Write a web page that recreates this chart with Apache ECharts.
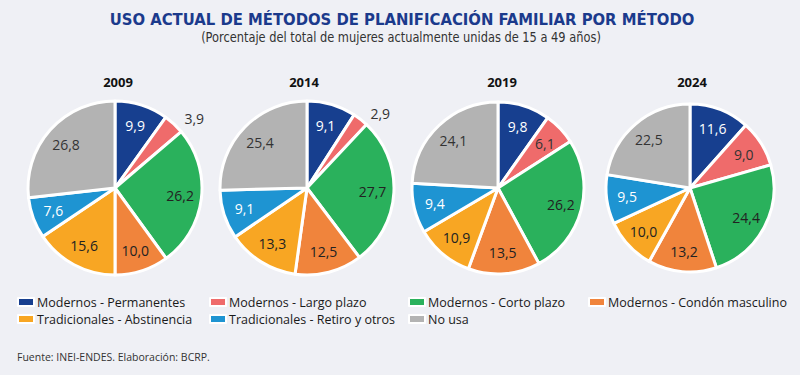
<!DOCTYPE html>
<html>
<head>
<meta charset="utf-8">
<script src="https://cdn.jsdelivr.net/npm/echarts@6/dist/echarts.min.js"></script>
<style>
html,body{margin:0;padding:0;background:#eff0f5;}
#chart{width:800px;height:375px;}
</style>
</head>
<body>
<div id="chart"></div>
<script>
// ---- Data ----
var categories = [
  'Modernos - Permanentes',
  'Modernos - Largo plazo',
  'Modernos - Corto plazo',
  'Modernos - Condón masculino',
  'Tradicionales - Abstinencia',
  'Tradicionales - Retiro y otros',
  'No usa'
];
var years = ['2009', '2014', '2019', '2024'];
var values2009 = [9.9, 3.9, 26.2, 10.0, 15.6, 7.6, 26.8];
var values2014 = [9.1, 2.9, 27.7, 12.5, 13.3, 9.1, 25.4];
var values2019 = [9.8, 6.1, 26.2, 13.5, 10.9, 9.4, 24.1];
var values2024 = [11.6, 9.0, 24.4, 13.2, 10.0, 9.5, 22.5];
var titleText = 'USO ACTUAL DE MÉTODOS DE PLANIFICACIÓN FAMILIAR POR MÉTODO';
var subtitleText = '(Porcentaje del total de mujeres actualmente unidas de 15 a 49 años)';
var sourceText = 'Fuente: INEI-ENDES. Elaboración: BCRP.';

// ---- Styles / layout ----
var colors = ['#173f8f', '#ef6b6b', '#2ab15c', '#f0843c', '#f8a623', '#1e94d2', '#b3b3b3'];
var labelColors = ['#ffffff', '#333333', '#222222', '#222222', '#222222', '#ffffff', '#333333'];
var allValues = [values2009, values2014, values2019, values2024];
var centers = [[115, 188], [307, 188], [498, 188], [690, 188]];
var radii = [87, 87, 86, 84];
var yearX = [118, 304, 502, 692];
var labelFont = '"Open Sans", "Liberation Sans", sans-serif';
var condFont = '"DejaVu Sans Condensed", "Liberation Sans", sans-serif';

function fmt(v) { return v.toFixed(1).replace('.', ','); }

var series = [];
allValues.forEach(function (vals, i) {
  series.push({
    type: 'pie',
    center: centers[i],
    radius: [0, radii[i]],
    startAngle: 90,
    clockwise: true,
    silent: true,
    label: { show: false },
    labelLine: { show: false },
    itemStyle: { borderColor: '#ffffff', borderWidth: 3 },
    data: vals.map(function (v, k) {
      return { name: categories[k], value: v, itemStyle: { color: colors[k] } };
    })
  });
});
// label overlay series (labels placed at ~0.72 radius)
allValues.forEach(function (vals, i) {
  series.push({
    type: 'pie',
    center: centers[i],
    radius: [radii[i] * 0.44, radii[i]],
    startAngle: 90,
    clockwise: true,
    silent: true,
    avoidLabelOverlap: false,
    itemStyle: { color: 'rgba(0,0,0,0)', borderWidth: 0 },
    labelLine: { show: false, length: 8, length2: 0 },
    label: {
      show: true,
      position: 'inside',
      fontFamily: labelFont,
      fontSize: 14,
      formatter: function (p) { return fmt(p.value); }
    },
    data: vals.map(function (v, k) {
      var small = v < 5;
      return {
        name: categories[k], value: v,
        itemStyle: { color: 'rgba(0,0,0,0)' },
        label: small ? { position: 'outside', color: '#333333' } : { color: labelColors[k] }
      };
    })
  });
});

function legendCol(left, idxs) {
  return {
    orient: 'vertical',
    left: left,
    top: 294,
    itemWidth: 16,
    itemHeight: 8,
    itemGap: 1,
    padding: 0,
    icon: 'rect',
    selectedMode: false,
    textStyle: { fontFamily: labelFont, fontSize: 12.5, color: '#1a1a1a', lineHeight: 16, padding: [0, 0, 0, -2] },
    data: idxs.map(function (k) { return { name: categories[k], itemStyle: { color: colors[k] } }; })
  };
}

var graphics = [
  { type: 'text', x: 402, y: 19, style: { text: titleText, align: 'center', verticalAlign: 'middle',
      font: 'bold 16.5px ' + condFont, fill: '#1b3a8c' } },
  { type: 'text', x: 401, y: 37, scaleX: 0.94, style: { text: subtitleText, align: 'center', verticalAlign: 'middle',
      font: '13.5px ' + condFont, fill: '#333333' } },
  { type: 'text', x: 17, y: 357, style: { text: sourceText, align: 'left', verticalAlign: 'middle',
      font: '10.5px ' + labelFont, fill: '#333333' } }
];
years.forEach(function (y, i) {
  graphics.push({ type: 'text', x: yearX[i], y: 82, style: { text: y, align: 'center', verticalAlign: 'middle',
      font: 'bold 13px ' + labelFont, fill: '#111111' } });
});

var chart = echarts.init(document.getElementById('chart'), null, { renderer: 'svg' });
chart.setOption({
  backgroundColor: '#eff0f5',
  animation: false,
  legend: [legendCol(17, [0, 4]), legendCol(209, [1, 5]), legendCol(408, [2, 6]), legendCol(588, [3])],
  graphic: graphics,
  series: series
});
</script>
</body>
</html>
